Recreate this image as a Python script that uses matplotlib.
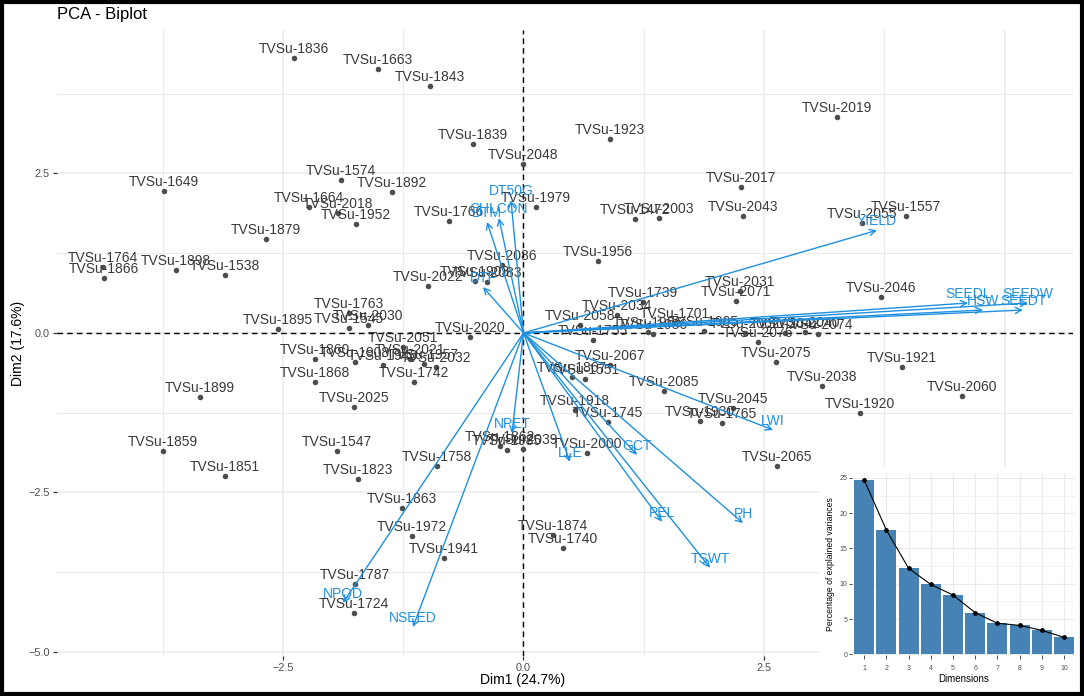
import matplotlib
matplotlib.use("Agg")
import matplotlib.pyplot as plt
from matplotlib.patches import Rectangle
from matplotlib.ticker import MultipleLocator, FixedLocator

plt.rcParams['font.family'] = ['Liberation Sans', 'DejaVu Sans']

# individuals: scores on Dim1 / Dim2
ind_names = [
    "TVSu-1836", "TVSu-1663", "TVSu-1843", "TVSu-1839", "TVSu-2048", "TVSu-1923",
    "TVSu-2019", "TVSu-1574", "TVSu-1649", "TVSu-1892", "TVSu-2017", "TVSu-1664",
    "TVSu-2018", "TVSu-1952", "TVSu-1979", "TVSu-1766", "TVSu-1472", "TVSu-2003",
    "TVSu-2043", "TVSu-2055", "TVSu-1557", "TVSu-1879", "TVSu-1956", "TVSu-2086",
    "TVSu-1764", "TVSu-1866", "TVSu-1898", "TVSu-1538", "TVSu-2022", "TVSu-1903",
    "TVSu-2083", "TVSu-2031", "TVSu-2046", "TVSu-1739", "TVSu-2071", "TVSu-1763",
    "TVSu-2034", "TVSu-2030", "TVSu-1545", "TVSu-1895", "TVSu-2058", "TVSu-1755",
    "TVSu-1701", "TVSu-1966", "TVSu-1986", "TVSu-1905", "TVSu-2062", "TVSu-2042",
    "TVSu-2040", "TVSu-2074", "TVSu-2076", "TVSu-2075", "TVSu-2051", "TVSu-2020",
    "TVSu-1860", "TVSu-2021", "TVSu-1908", "TVSu-1946", "TVSu-1957", "TVSu-2032",
    "TVSu-1742", "TVSu-1868", "TVSu-1899", "TVSu-2025", "TVSu-1859", "TVSu-1851",
    "TVSu-1547", "TVSu-1823", "TVSu-1758", "TVSu-1863", "TVSu-1972", "TVSu-1941",
    "TVSu-1787", "TVSu-1724", "TVSu-1874", "TVSu-1740", "TVSu-1862", "TVSu-1985",
    "TVSu-2039", "TVSu-2000", "TVSu-2067", "TVSu-1867", "TVSu-1551", "TVSu-1918",
    "TVSu-1745", "TVSu-2085", "TVSu-2045", "TVSu-1930", "TVSu-1765", "TVSu-1921",
    "TVSu-2038", "TVSu-2060", "TVSu-1920", "TVSu-2065",
]
ind_dim1 = [
    -2.386, -1.512, -0.972, -0.525, -0.005, 0.899,
    3.260, -1.897, -3.737, -1.367, 2.261, -2.230,
    -1.928, -1.741, 0.130, -0.774, 1.159, 1.409,
    2.282, 3.519, 3.976, -2.677, 0.774, -0.224,
    -4.371, -4.361, -3.612, -3.103, -0.993, -0.504,
    -0.379, 2.250, 3.716, 1.242, 2.209, -1.814,
    0.972, -1.616, -1.814, -2.552, 0.588, 0.722,
    1.575, 1.294, 1.346, 1.876, 2.300, 2.718,
    2.926, 3.061, 2.438, 2.625, -1.253, -0.556,
    -2.167, -1.180, -1.751, -1.460, -1.034, -0.910,
    -1.138, -2.167, -3.363, -1.762, -3.747, -3.103,
    -1.939, -1.720, -0.899, -1.263, -1.159, -0.826,
    -1.752, -1.762, 0.307, 0.411, -0.244, -0.172,
    -0.005, 0.660, 0.899, 0.504, 0.639, 0.535,
    0.878, 1.460, 2.178, 1.835, 2.063, 3.934,
    3.103, 4.558, 3.498, 2.635,
]
ind_dim2 = [
    4.31, 4.14, 3.87, 2.96, 2.65, 3.04,
    3.39, 2.40, 2.23, 2.21, 2.29, 1.97,
    1.88, 1.71, 1.97, 1.76, 1.79, 1.80,
    1.83, 1.72, 1.83, 1.47, 1.13, 1.07,
    1.03, 0.86, 0.99, 0.91, 0.74, 0.82,
    0.80, 0.66, 0.56, 0.49, 0.50, 0.31,
    0.28, 0.13, 0.08, 0.06, 0.13, -0.11,
    0.16, 0.02, -0.02, 0.03, 0.00, 0.00,
    0.02, -0.02, -0.14, -0.45, -0.22, -0.06,
    -0.41, -0.41, -0.45, -0.50, -0.49, -0.53,
    -0.77, -0.77, -1.00, -1.16, -1.85, -2.24,
    -1.85, -2.29, -2.08, -2.74, -3.18, -3.53,
    -3.93, -4.39, -3.17, -3.37, -1.77, -1.83,
    -1.82, -1.88, -0.50, -0.69, -0.72, -1.21,
    -1.39, -0.91, -1.18, -1.38, -1.41, -0.53,
    -0.83, -0.99, -1.25, -2.08,
]

# variables: arrow ends on Dim1 / Dim2
var_names = ["DT50G", "CHLCON", "DTM", "DTF", "YIELD", "SEEDL", "SEEDW", "HSW",
             "SEEDT", "LWI", "PH", "TSWT", "PEL", "GCT", "LLE", "NPET", "NSEED", "NPOD"]
var_dim1 = [-0.130, -0.255, -0.379, -0.421, 3.675, 4.621, 5.244, 4.777,
            5.192, 2.594, 2.282, 1.939, 1.440, 1.180, 0.483, -0.120, -1.149, -1.876]
var_dim2 = [2.08, 1.80, 1.74, 0.72, 1.61, 0.47, 0.47, 0.36,
            0.36, -1.52, -2.98, -3.68, -2.96, -1.91, -2.02, -1.57, -4.61, -4.23]

# scree plot
dims = [1, 2, 3, 4, 5, 6, 7, 8, 9, 10]
explained = [24.7, 17.6, 12.2, 9.9, 8.4, 5.9, 4.4, 4.1, 3.4, 2.4]

W, H = 1084, 696
blue = "#1E90E0"
grid_col = "#EBEBEB"

fig = plt.figure(figsize=(W / 100, H / 100), dpi=100)
ax = fig.add_axes([57 / W, 1 - 656 / H, (1073 - 57) / W, (656 - 30) / H])

ax.set_xlim(-4.849, 5.712)
ax.set_ylim(-5.063, 4.749)
for s in ax.spines.values():
    s.set_visible(False)
ax.xaxis.set_major_locator(FixedLocator([-2.5, 0.0, 2.5, 5.0]))
ax.yaxis.set_major_locator(FixedLocator([-5.0, -2.5, 0.0, 2.5]))
ax.xaxis.set_minor_locator(FixedLocator([-3.75, -1.25, 1.25, 3.75]))
ax.yaxis.set_minor_locator(FixedLocator([-3.75, -1.25, 1.25, 3.75]))
ax.grid(which='major', color=grid_col, lw=1.2)
ax.grid(which='minor', color=grid_col, lw=0.8)
ax.set_axisbelow(True)
ax.tick_params(which='major', length=3, width=0.9, color='#333333',
               labelsize=7.8, labelcolor='#4D4D4D', pad=2)
ax.tick_params(which='minor', length=0)

ax.axhline(0, color='black', lw=1.0, ls=(0, (4, 3)), zorder=1)
ax.axvline(0, color='black', lw=1.0, ls=(0, (4, 3)), zorder=1)

ax.scatter(ind_dim1, ind_dim2, s=16, color='#4D4D4D', zorder=2, linewidths=0)
for n, x, y in zip(ind_names, ind_dim1, ind_dim2):
    ax.annotate(n, (x, y), xytext=(0, 3.6), textcoords='offset points',
                ha='center', va='baseline', fontsize=10, color='#3A3A3A', zorder=3)

for n, x, y in zip(var_names, var_dim1, var_dim2):
    ax.annotate('', xy=(x, y), xytext=(0, 0),
                arrowprops=dict(arrowstyle='->', color=blue, lw=1.0,
                                shrinkA=0, shrinkB=0, mutation_scale=11),
                zorder=4)
    ax.annotate(n, (x, y), xytext=(0, 3.6), textcoords='offset points',
                ha='center', va='baseline', fontsize=10, color=blue, zorder=5)

fig.text(57 / W, 1 - 15 / H, "PCA - Biplot", fontsize=12, ha='left', va='center')
fig.text(523 / W, 1 - 680 / H, "Dim1 (24.7%)", fontsize=10, ha='center', va='center')
fig.text(18 / W, 1 - 343 / H, "Dim2 (17.6%)", fontsize=10, ha='center', va='center',
         rotation=90)

# white box behind the inset
fig.patches.append(Rectangle((820 / W, 1 - 691 / H), (1079 - 820) / W, (691 - 467) / H,
                             transform=fig.transFigure, facecolor='white',
                             edgecolor='none', zorder=1))

ins = fig.add_axes([852 / W, 1 - 655 / H, 223 / W, 182 / H], zorder=2)
ins.bar(dims, explained, width=0.9, color='#4682B4', edgecolor='none', zorder=2)
ins.plot(dims, explained, color='black', lw=0.8, zorder=3)
ins.scatter(dims, explained, s=6, color='black', zorder=4)
ins.set_xlim(0.45, 10.5)
ins.set_ylim(-0.1, 25.7)
for s in ins.spines.values():
    s.set_visible(False)
ins.set_xticks(dims)
ins.yaxis.set_major_locator(MultipleLocator(5))
ins.yaxis.set_minor_locator(MultipleLocator(2.5))
ins.grid(which='major', color=grid_col, lw=0.8)
ins.grid(which='minor', axis='y', color=grid_col, lw=0.5)
ins.set_axisbelow(True)
ins.tick_params(which='major', length=2, width=0.6, color='#333333',
                labelsize=5, labelcolor='#4D4D4D', pad=1.5)
ins.tick_params(axis='x', which='major', length=3, pad=4)
ins.tick_params(which='minor', length=0)
ins.set_xlabel("Dimensions", fontsize=7, labelpad=1.5)
ins.set_ylabel("Percentage of explained variances", fontsize=6.2, labelpad=3)

# outer frame
fig.patches.append(Rectangle((2 / W, 2 / H), (W - 4) / W, (H - 4) / H,
                             transform=fig.transFigure, fill=False,
                             edgecolor='black', lw=3, zorder=10))

fig.savefig("out.png", dpi=100)
